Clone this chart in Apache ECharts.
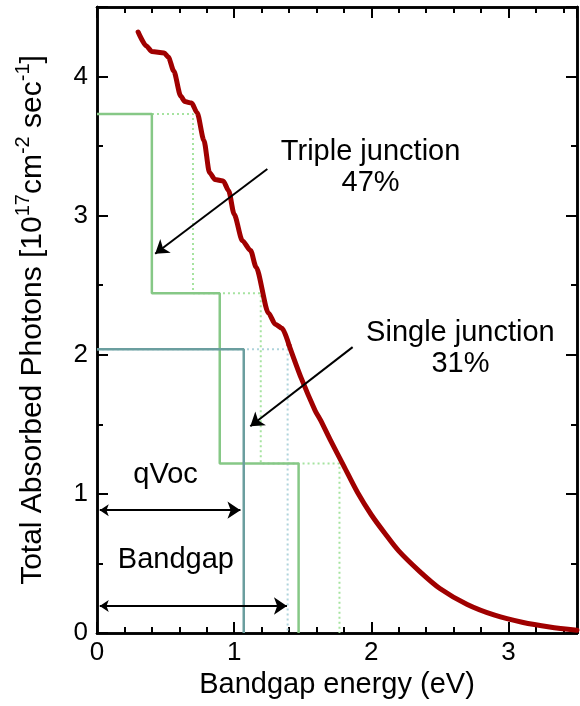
<!DOCTYPE html>
<html>
<head>
<meta charset="utf-8">
<script src="https://cdn.jsdelivr.net/npm/echarts@6/dist/echarts.min.js"></script>
<style>
  html, body {margin: 0; padding: 0; background: #fff;}
  #chart {width: 580px; height: 706px;}
</style>
</head>
<body>
<div id="chart"></div>
<script>
// absorbed photon curve (eV, 1e17 cm-2 s-1)
const photonEnergy = [0.30, 0.36, 0.40, 0.49, 0.52, 0.56, 0.61, 0.64, 0.69, 0.73, 0.78, 0.82, 0.86, 0.92, 0.96, 1.00,
  1.06, 1.12, 1.16, 1.25, 1.30, 1.35, 1.40, 1.49, 1.59, 1.63, 1.70, 1.80, 1.90, 2.00, 2.10, 2.20, 2.35, 2.50, 2.70, 2.90, 3.10, 3.30, 3.50];
const photonCount = [4.32, 4.22, 4.18, 4.17, 4.14, 4.04, 3.86, 3.82, 3.81, 3.74, 3.54, 3.31, 3.26, 3.25, 3.18, 3.01,
  2.82, 2.75, 2.63, 2.30, 2.22, 2.19, 2.07, 1.83, 1.60, 1.53, 1.39, 1.20, 1.01, 0.85, 0.715, 0.59, 0.445, 0.32, 0.205, 0.128, 0.077, 0.043, 0.02];
// the stepped part (absorption edges) and the smooth tail meet here
const tailStart = 1.40;

// triple junction: absorbed photon level, qVoc and bandgap of each cell
const tripleLevel = [3.73, 2.443, 1.218];
const tripleVoc = [0.40, 0.895, 1.47];
const tripleGap = [0.70, 1.194, 1.768];

// single junction
const singleLevel = [2.04];
const singleVoc = [1.07];
const singleGap = [1.39];

// arrows [x1, y1, x2, y2]
const tripleArrow = [1.242, 3.336, 0.424, 2.726];
const singleArrow = [1.864, 2.055, 1.118, 1.486];
const vocArrow = [0.02, 0.883, 1.046, 0.883];
const gapArrow = [0.02, 0.194, 1.385, 0.194];

// text notes [x, y, text]
const notes = [
  [1.995, 3.343, "Triple junction\n47%"],
  [2.65, 2.044, "Single junction\n31%"],
  [0.50, 1.134, "qVoc"],
  [0.575, 0.524, "Bandgap"],
];

const FONT = "Liberation Sans, Arial, Helvetica, sans-serif";

function steps(levels, edges) {
  const pts = [[0, levels[0]]];
  for (let i = 0; i < levels.length; i++) {
    pts.push([edges[i], levels[i]]);
    pts.push([edges[i], i + 1 < levels.length ? levels[i + 1] : 0]);
  }
  return pts;
}

function stepSeries(levels, edges, color, dotted, width) {
  return {
    type: "line", data: steps(levels, edges), symbol: "none", silent: true,
    lineStyle: {color: color, width: width, type: dotted ? [2, 3] : "solid", cap: "butt"},
  };
}

function curveSeries(points, smooth, monotone) {
  return {
    type: "line", data: points, symbol: "none", silent: true,
    smooth: smooth, smoothMonotone: monotone,
    lineStyle: {color: "#a00000", width: 5, join: "round", cap: "round"},
  };
}

function arrow(a, both) {
  return {coords: [[a[0], a[1]], [a[2], a[3]]], symbol: both ? ["arrow", "arrow"] : ["none", "arrow"]};
}

function xAx(pos, interval, tickLen, showLabel) {
  return {
    type: "value", position: pos, min: 0, max: 3.5, interval: interval,
    axisLine: {show: true, onZero: false, lineStyle: {color: "#000", width: 2.5}},
    axisTick: {show: true, inside: true, length: tickLen, lineStyle: {color: "#000", width: 2}},
    axisLabel: {show: showLabel, margin: 7, color: "#000", fontSize: 26, fontFamily: FONT,
      formatter: v => Number.isInteger(v) ? String(v) : ""},
    splitLine: {show: false},
  };
}

function yAx(pos, interval, tickLen, showLabel) {
  return {
    type: "value", position: pos, min: 0, max: 4.5, interval: interval,
    axisLine: {show: true, onZero: false, lineStyle: {color: "#000", width: 2.5}},
    axisTick: {show: true, inside: true, length: tickLen, lineStyle: {color: "#000", width: 2}},
    axisLabel: {show: showLabel, margin: 9, color: "#000", fontSize: 26, fontFamily: FONT,
      formatter: v => Number.isInteger(v) ? String(v) : ""},
    splitLine: {show: false},
  };
}

const xMain = xAx("bottom", 1, 11, true);
xMain.name = "Bandgap energy (eV)";
xMain.nameLocation = "middle";
xMain.nameGap = 51;
xMain.nameTextStyle = {color: "#000", fontSize: 29, fontFamily: FONT, verticalAlign: "middle"};

const yMain = yAx("left", 1, 11, true);
yMain.name = "Total Absorbed Photons [10{s|17}cm{s|-2} sec{s|-1}]";
yMain.nameLocation = "middle";
yMain.nameGap = 64;
yMain.nameTextStyle = {
  color: "#000", fontSize: 30, fontFamily: FONT, verticalAlign: "middle", lineHeight: 40,
  rich: {s: {fontSize: 20, lineHeight: 20, verticalAlign: "top", color: "#000", fontFamily: FONT}},
};

const curve = photonEnergy.map((x, i) => [x, photonCount[i]]);
const edgePart = curve.filter(p => p[0] <= tailStart);
const tailPart = curve.filter(p => p[0] >= tailStart);

const chart = echarts.init(document.getElementById("chart"), null, {renderer: "canvas"});
chart.setOption({
  animation: false,
  backgroundColor: "#fff",
  grid: {left: 97, right: -4.5, top: 7, bottom: 73, containLabel: false},
  xAxis: [xMain, xAx("bottom", 0.2, 6, false), xAx("top", 1, 11, false), xAx("top", 0.2, 6, false)],
  yAxis: [yMain, yAx("left", 0.5, 6, false), yAx("right", 1, 11, false), yAx("right", 0.5, 6, false)],
  series: [
    stepSeries(tripleLevel, tripleGap, "#a6e3a0", true, 2),
    stepSeries(singleLevel, singleGap, "#aed3db", true, 2),
    stepSeries(tripleLevel, tripleVoc, "#86c886", false, 2.5),
    stepSeries(singleLevel, singleVoc, "#6b9e9f", false, 2.5),
    curveSeries(edgePart, 0.25, "x"),
    curveSeries(tailPart, 0.3, null),
    {
      type: "lines", coordinateSystem: "cartesian2d", silent: true, symbolSize: [9, 13],
      lineStyle: {color: "#000", width: 2, opacity: 1, curveness: 0},
      data: [arrow(tripleArrow), arrow(singleArrow), arrow(vocArrow, true), arrow(gapArrow, true)],
      z: 5,
    },
    {
      type: "scatter", symbol: "circle", symbolSize: 0, silent: true, itemStyle: {color: "#000", opacity: 1},
      data: notes.map(n => ({value: [n[0], n[1]], name: n[2]})),
      label: {show: true, position: "inside", formatter: "{b}", color: "#000", opacity: 1,
        textBorderWidth: 0, fontSize: 29, lineHeight: 31, align: "center", fontFamily: FONT},
      z: 6,
    },
  ],
});
</script>
</body>
</html>
